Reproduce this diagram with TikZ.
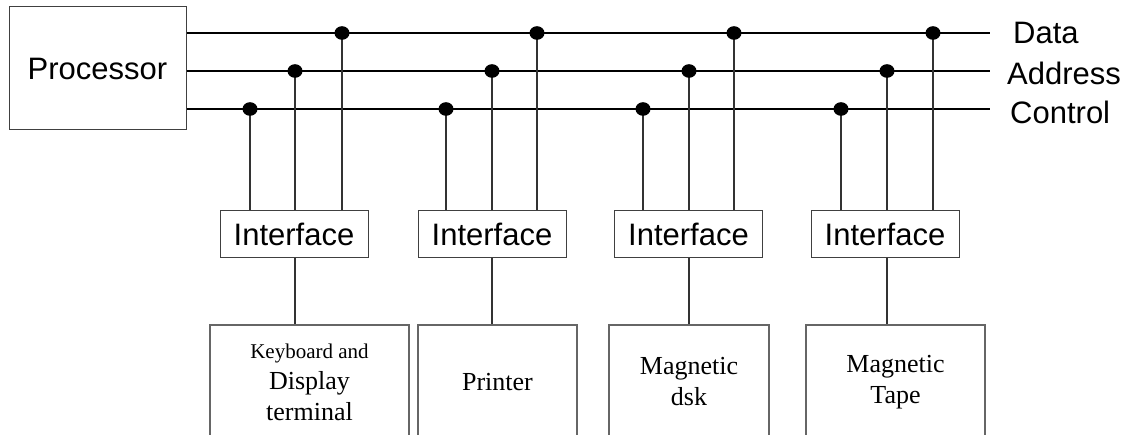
\documentclass[tikz,border=0pt]{standalone}
\usepackage{fontspec}
\setmainfont{Liberation Sans}
\newfontfamily\devfont{Liberation Serif}
\usetikzlibrary{positioning}

\begin{document}
\begin{tikzpicture}[
  x=1pt, y=-1pt,
  boxbase/.style={
    draw=black!75, line width=1pt, inner sep=0pt,
    font=\fontsize{31}{36}\selectfont
  },
  proc/.style={boxbase, minimum width=177pt, minimum height=123pt},
  iface/.style={boxbase, minimum width=148pt, minimum height=47pt},
  device/.style={
    draw=black!60, line width=1.2pt, inner sep=0pt,
    minimum height=114pt, align=center,
    font=\devfont\fontsize{26}{31}\selectfont
  },
  busline/.style={line width=1.1pt, black},
  tapline/.style={line width=1.1pt, black!80},
  joint/.style={fill=black},
  buslabel/.style={anchor=base west, inner sep=0pt, font=\fontsize{31}{36}\selectfont},
]
\clip (0,0) rectangle (1128,435);

% Processor and the three buses
\node[proc] (proc) at (97.5,68.5) {Processor};

\coordinate (dend) at (990,33);
\coordinate (aend) at (990,71);
\coordinate (cend) at (990,109);

\draw[busline] (proc.east |- dend) -- (dend);
\draw[busline] (proc.east |- aend) -- (aend);
\draw[busline] (proc.east |- cend) -- (cend);

\node[buslabel] (dlab) at (1013,43.5) {Data};
\node[buslabel] (alab) at (1007,85) {Address};
\node[buslabel] (clab) at (1010,124) {Control};

% Devices
\node[device, minimum width=199pt] (dev1) at (309.5,382) {{\fontsize{21}{24}\selectfont Keyboard and}\\Display\\terminal};
\node[device, minimum width=159pt] (dev2) at (497.5,382) {Printer};
\node[device, minimum width=160pt] (dev3) at (689,382) {Magnetic\\dsk};
\node[device, minimum width=179pt] (dev4) at (895.5,382) {Magnetic\\Tape};

% Interfaces with their taps on the buses
\foreach \k/\c/\a/\d/\ix in {1/250/295/342/294, 2/446/492/537/492, 3/643/689/734/688.5, 4/841/887/933/885} {
  \node[iface] (if\k) at (\ix,234.5) {Interface};
  \coordinate (c\k) at (\c,109);
  \coordinate (a\k) at (\a,71);
  \coordinate (d\k) at (\d,33);
  \foreach \j in {c,a,d} {
    \draw[tapline] (\j\k) -- (\j\k |- if\k.north);
    \fill[joint] (\j\k) circle[x radius=7.5pt, y radius=6.8pt];
  }
  \draw[tapline] (a\k |- if\k.south) -- (a\k |- dev\k.north);
}

\end{tikzpicture}
\end{document}
